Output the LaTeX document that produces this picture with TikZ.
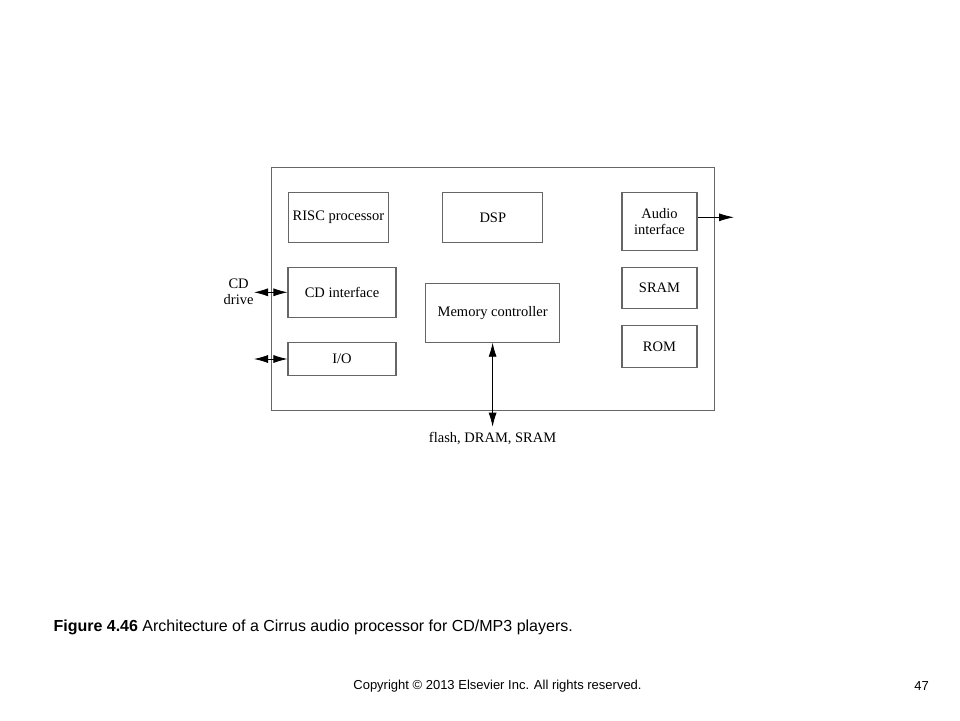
\documentclass[tikz,border=0pt]{standalone}
\usepackage{fontspec}
\setmainfont{Liberation Serif}
\newfontfamily\capfont{Liberation Sans}
\usetikzlibrary{arrows.meta}

\begin{document}
\begin{tikzpicture}[x=1pt, y=-1pt,
    blk/.style={draw=black!60, line width=1.1pt, inner sep=0pt, align=center, font=\fontsize{14.5}{16}\selectfont},
    link/.style={line width=0.8pt, -{Latex[length=15pt,width=8pt]}},
    dlink/.style={line width=0.8pt, {Latex[length=14pt,width=8pt]}-{Latex[length=14pt,width=8pt]}}]
    \useasboundingbox (0,0) rectangle (960,720);

    \draw[draw=black!60, line width=1.1pt] (271.4,167.5) rectangle (714.3,410.7);

    \node[blk, minimum width=100.6pt, minimum height=50pt] (risc) at (338.4,217.7) {RISC processor};
    \node[blk, minimum width=100pt, minimum height=50pt] (dsp) at (492.8,217.7) {DSP};
    \node[blk, minimum width=75pt, minimum height=58pt] (audio) at (659.5,221.7) {Audio\\interface};

    \node[blk, minimum width=108pt, minimum height=50pt] (cdif) at (342,292.3) {CD interface};
    \node[blk, minimum width=133.6pt, minimum height=58.3pt] (memc) at (492.6,313) {Memory controller};
    \node[blk, minimum width=108pt, minimum height=33.4pt] (io) at (342,359) {I/O};

    \node[blk, minimum width=75pt, minimum height=41.7pt] (sram) at (659.5,288) {SRAM};
    \node[blk, minimum width=75pt, minimum height=41.7pt] (rom) at (659.5,346.5) {ROM};

    \coordinate (out) at (734,217.3);
    \coordinate (cddrv) at (254,292.3);
    \coordinate (ioext) at (254,359);
    \coordinate (mem) at (492.6,426.7);

    \draw[link] ([yshift=4.4pt]audio.east) -- (out);
    \draw[dlink] (cddrv) -- (cdif.west);
    \draw[dlink] (ioext) -- (io.west);
    \draw[dlink] (memc.south) -- (mem);

    \node[align=center, font=\fontsize{14.5}{15.5}\selectfont] (cdlbl) at (238.6,292) {CD\\drive};
    \node[below=2pt, font=\fontsize{14.5}{16}\selectfont] (memlbl) at (mem) {flash, DRAM, SRAM};

    \node[anchor=west, font=\capfont\fontsize{16}{18}\selectfont] (cap) at (50,627) {\textbf{Figure 4.46} Architecture of a Cirrus audio processor for CD/MP3 players.};
    \node[font=\capfont\fontsize{13}{15}\selectfont] (copy) at (497.5,686) {Copyright \textcopyright{} 2013 Elsevier Inc. All rights reserved.};
    \node[font=\capfont\fontsize{13}{15}\selectfont] (page) at (921.5,686) {47};
  \end{tikzpicture}
\end{document}
